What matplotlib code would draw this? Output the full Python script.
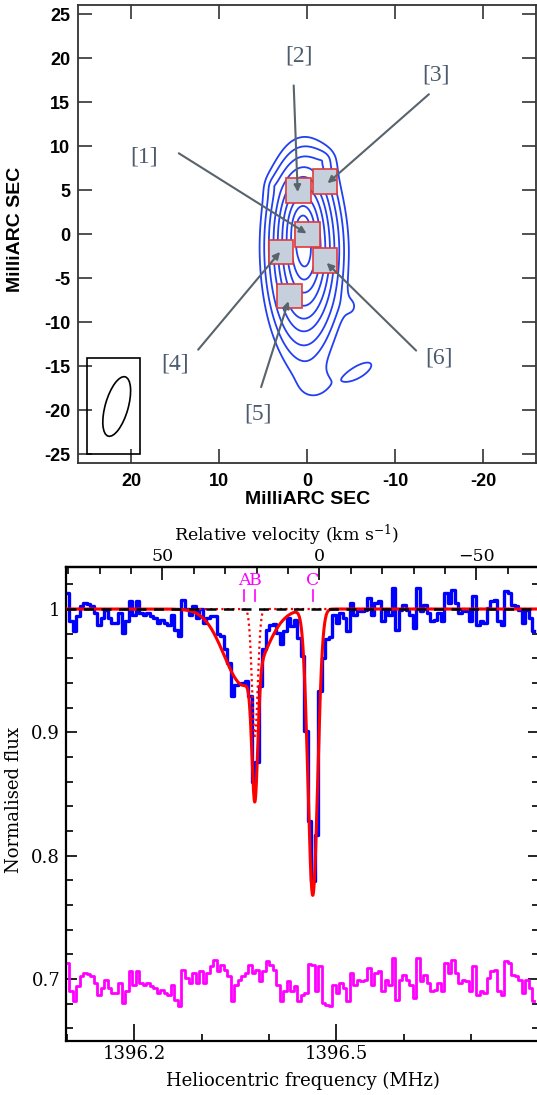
import numpy as np
import matplotlib
matplotlib.use('Agg')
import matplotlib.pyplot as plt
from matplotlib.patches import Rectangle, Ellipse

# ---------------- data: VLBI map ----------------
# source model components (exponential brightness profiles):
# x0, y0 (mas); scale along x (rotated), scale towards north / south; angle (deg); amplitude
comp_x0 = [0.5, 0.2, -1.8, 3.8, -0.6, -4.9, -6.0]
comp_y0 = [0.3, -2.5, 8.5, 5.5, -17.1, -8.2, -15.5]
comp_sx = [0.85, 1.1, 1.3, 1.0, 2.0, 0.8, 3.0]
comp_syn = [2.0, 2.0, 1.2, 1.2, 1.8, 1.0, 1.2]
comp_sys = [2.8, 2.6, 1.5, 1.2, 1.8, 1.0, 1.2]
comp_ang = [0, 0, 0, 0, 0, 0, -32]
comp_amp = [1.0, 0.3, 0.008, 0.005, 0.005, 0.006, 0.0085]
contour_levels = [0.0055, 0.0095, 0.0165, 0.029, 0.049, 0.084, 0.145, 0.25, 0.43]

box_labels = ['[1]', '[2]', '[3]', '[4]', '[5]', '[6]']
box_cx = [0.0, 1.0, -2.0, 3.0, 2.0, -2.0]
box_cy = [0.0, 5.0, 6.0, -2.0, -7.0, -3.0]
box_w = 2.8
label_x = [18.6, 1.0, -14.6, 15.0, 5.6, -14.9]
label_y = [8.8, 20.3, 18.1, -14.7, -20.4, -14.0]
tail_x = [14.6, 1.55, -13.8, 12.4, 5.25, -12.35]
tail_y = [9.2, 16.9, 15.9, -13.1, -17.35, -13.2]
head_x = [0.1, 1.1, -2.3, 3.1, 2.15, -2.2]
head_y = [0.1, 4.8, 5.8, -2.0, -7.6, -3.25]

beam_center = (21.65, -19.55)
beam_major, beam_minor, beam_angle = 7.0, 2.6, 106
beam_box = (19.0, -25.0, 6.05, 11.0)  # x0, y0, w, h

map_xticks = [20, 10, 0, -10, -20]
map_yticks = [25, 20, 15, 10, 5, 0, -5, -10, -15, -20, -25]

# ---------------- data: HI spectrum ----------------
F0 = 1396.4748          # MHz, zero of the velocity scale
C_KMS = 299792.458
f_lo, f_hi = 1396.0985, 1396.7957
# Gaussian fit components: centre (MHz), sigma (MHz), depth
fit_names = ['A', 'B', 'C']
fit_cen = [1396.3630, 1396.3791, 1396.4650]
fit_sig = [0.0295, 0.00428, 0.0072]
fit_dep = [0.062, 0.103, 0.232]
# residuals (data - fit), one per channel
resid = [0.0129, -0.0100, -0.0181, -0.0060, 0.0021, 0.0048, 0.0043, 0.0021, -0.0033, -0.0127,
         -0.0073, -0.0006, -0.0073, -0.0114, -0.0114, -0.0033, -0.0195, -0.0100, 0.0062, -0.0046,
         0.0062, -0.0033, -0.0046, -0.0033, -0.0060, -0.0073, -0.0114, -0.0087, -0.0114, -0.0127,
         -0.0046, -0.0168, -0.0216, 0.0075, 0.0008, -0.0033, 0.0048, -0.0033, 0.0062, -0.0033,
         0.0048, 0.0102, 0.0156, 0.0062, 0.0116, 0.0075, 0.0021, -0.0181, -0.0046, -0.0006,
         0.0021, 0.0048, 0.0116, 0.0048, 0.0075, -0.0019, 0.0062, 0.0143, 0.0116, 0.0075,
         -0.0046, -0.0181, -0.0100, -0.0019, -0.0100, -0.0060, -0.0181, -0.0127, -0.0114, 0.0124,
         0.0116, -0.0100, 0.0102, -0.0195, -0.0208, -0.0222, -0.0046, -0.0114, -0.0033, -0.0073,
         -0.0181, 0.0048, -0.0046, -0.0006, -0.0019, -0.0006, 0.0089, -0.0046, 0.0048, 0.0062,
         -0.0100, -0.0006, -0.0046, 0.0170, -0.0168, -0.0006, 0.0035, -0.0006, -0.0046, -0.0154,
         0.0170, -0.0019, 0.0035, -0.0033, -0.0100, -0.0087, -0.0033, -0.0100, 0.0129, 0.0048,
         0.0156, 0.0048, -0.0033, -0.0006, -0.0019, -0.0100, 0.0102, -0.0127, -0.0100, -0.0114,
         0.0008, 0.0062, 0.0075, -0.0100, -0.0127, 0.0143, 0.0129, 0.0035, 0.0021, -0.0006,
         -0.0114, -0.0006, -0.0073, -0.0181]
resid_offset = 0.7
spec_yticks = [0.7, 0.8, 0.9, 1.0]
spec_yticklabels = ['0.7', '0.8', '0.9', '1']
freq_ticks = [1396.2, 1396.5]
vel_ticks = [50, 0, -50]

# ---------------- figure ----------------
W, H = 537, 1095
fig = plt.figure(figsize=(W / 100, H / 100), dpi=100)
plt.rcParams['mathtext.fontset'] = 'dejavuserif'


def rect(l, t, r, b):
    return [l / W, 1 - b / H, (r - l) / W, (b - t) / H]


def ftext(x, y, s, **kw):
    fig.text(x / W, 1 - y / H, s, ha='center', va='center', **kw)


# ================= top panel =================
ax1 = fig.add_axes(rect(78.4, 5.3, 536.3, 463.3))
gx = np.linspace(-26, 26, 700)
gy = np.linspace(-26, 26, 700)
X, Y = np.meshgrid(gx, gy)
Z = np.zeros_like(X)
for x0, y0, sx, syn, sys_, a, amp in zip(comp_x0, comp_y0, comp_sx, comp_syn, comp_sys,
                                         comp_ang, comp_amp):
    t = np.deg2rad(a)
    dx, dy = X - x0, Y - y0
    u = dx * np.cos(t) + dy * np.sin(t)
    v = -dx * np.sin(t) + dy * np.cos(t)
    sy = np.where(v > 0, syn, sys_)
    Z += amp * np.exp(-np.sqrt((u / sx) ** 2 + (v / sy) ** 2))
ax1.contour(X, Y, Z, levels=contour_levels, colors='#2240f2', linewidths=1.3, zorder=2)

for cx, cy in zip(box_cx, box_cy):
    ax1.add_patch(Rectangle((cx - box_w / 2, cy - box_w / 2), box_w, box_w,
                            facecolor='#c6cfdc', edgecolor='#e03a3a', lw=1.2, zorder=3))
for lab, lx, ly, tx, ty, hx, hy in zip(box_labels, label_x, label_y, tail_x, tail_y, head_x, head_y):
    ax1.annotate('', xy=(hx, hy), xytext=(tx, ty),
                 arrowprops=dict(arrowstyle='-|>', color='#59636b', lw=1.5,
                                 mutation_scale=10, shrinkA=0, shrinkB=0), zorder=4)
    ax1.text(lx, ly, lab, ha='center', va='center', fontsize=17, color='#4d5b6e',
             family='Liberation Serif', zorder=5)

bx0, by0, bw, bh = beam_box
ax1.add_patch(Rectangle((bx0, by0), bw, bh, fill=False, edgecolor='k', lw=1.2, zorder=3))
ax1.add_patch(Ellipse(beam_center, beam_major, beam_minor, angle=beam_angle,
                      fill=False, edgecolor='k', lw=1.2, zorder=3))

ax1.set_xlim(26, -26)
ax1.set_ylim(-26, 26)
ax1.set_xticks(map_xticks, labels=[str(v) for v in map_xticks],
               fontweight='bold', family='Liberation Sans', fontsize=13)
ax1.set_yticks(map_yticks, labels=[str(v) for v in map_yticks],
               fontweight='bold', family='Liberation Sans', fontsize=13)
ax1.tick_params(direction='in', length=10, width=1.2, color='#333333',
                top=True, right=True)
ax1.tick_params(axis='x', pad=7)
ax1.tick_params(axis='y', pad=6)
for s in ax1.spines.values():
    s.set_linewidth(1.3)
    s.set_color('#333333')
ftext(307.5, 500, 'MilliARC SEC', fontsize=14, fontweight='bold', family='Liberation Sans')
ftext(16, 229, 'MilliARC SEC', fontsize=14, fontweight='bold', family='Liberation Sans',
      rotation=90)

# ================= bottom panel =================
ax2 = fig.add_axes(rect(65.8, 566.7, 538.5, 1040.7))
nch = len(resid)
edges = np.linspace(f_lo, f_hi, nch + 1)
fch = 0.5 * (edges[:-1] + edges[1:])


def model(f, which=None):
    out = np.ones_like(f)
    for i, (c, s, d) in enumerate(zip(fit_cen, fit_sig, fit_dep)):
        if which is None or which == i:
            out -= d * np.exp(-0.5 * ((f - c) / s) ** 2)
    return out


res = np.array(resid)
flux = model(fch) + res
ax2.step(fch, flux, where='mid', color='#0000ff', lw=2.4, zorder=2)
ax2.step(fch, res + resid_offset, where='mid', color='#ff00ff', lw=2.0, zorder=2)
ff = np.linspace(f_lo, f_hi, 3000)
ax2.plot(ff, model(ff, which=1), color='#ff0000', lw=1.6, ls=(0, (1, 1.5)), zorder=3)
ax2.plot(ff, model(ff), color='#ff0000', lw=2.2, zorder=4)
ax2.axhline(1.0, color='k', lw=1.8, ls=(0, (4, 3)), zorder=5)

for name, c in zip(fit_names, fit_cen):
    ax2.plot([c, c], [1.0065, 1.0155], color='#ff00ff', lw=1.2, zorder=5)
    ax2.text(c, 1.0235, name, ha='center', va='center', color='#ff00ff',
             fontsize=12.5, family='DejaVu Serif')

ax2.set_xlim(f_lo, f_hi)
ax2.set_ylim(0.65, 1.0343)
ax2.set_xticks(freq_ticks, labels=['1396.2', '1396.5'], family='DejaVu Serif', fontsize=13)
ax2.set_xticks(np.arange(1396.1, 1396.81, 0.1), minor=True)
ax2.set_yticks(spec_yticks, labels=spec_yticklabels, family='DejaVu Serif', fontsize=13)
ax2.set_yticks(np.arange(0.66, 1.035, 0.02), minor=True)
ax2.tick_params(which='both', direction='in', top=False, right=True, width=1.2, color='k')
ax2.tick_params(axis='x', which='major', length=12, pad=3)
ax2.tick_params(axis='x', which='minor', length=5)
ax2.tick_params(axis='y', which='major', length=8, pad=4)
ax2.tick_params(axis='y', which='minor', length=5)
for s in ax2.spines.values():
    s.set_linewidth(1.6)
    s.set_color('k')


def f2v(f):
    return (F0 - np.asarray(f)) * C_KMS / F0


def v2f(v):
    return F0 - np.asarray(v) * F0 / C_KMS


sec = ax2.secondary_xaxis('top', functions=(f2v, v2f))
sec.set_xticks(vel_ticks, labels=['50', '0', '\u221250'], family='DejaVu Serif', fontsize=12.5)
sec.set_xticks(np.arange(-60, 81, 10), minor=True)
sec.tick_params(which='both', direction='in', width=1.2, pad=1.5)
sec.tick_params(which='major', length=9)
sec.tick_params(which='minor', length=5)
sec.spines['top'].set_linewidth(1.6)

ftext(287, 535, 'Relative velocity (km s$^{-1}$)', fontsize=12.5, family='DejaVu Serif')
ftext(303, 1081, 'Heliocentric frequency (MHz)', fontsize=13, family='DejaVu Serif')
ftext(14, 800, 'Normalised flux', fontsize=13, family='DejaVu Serif', rotation=90)

fig.savefig('out.png', dpi=100)
